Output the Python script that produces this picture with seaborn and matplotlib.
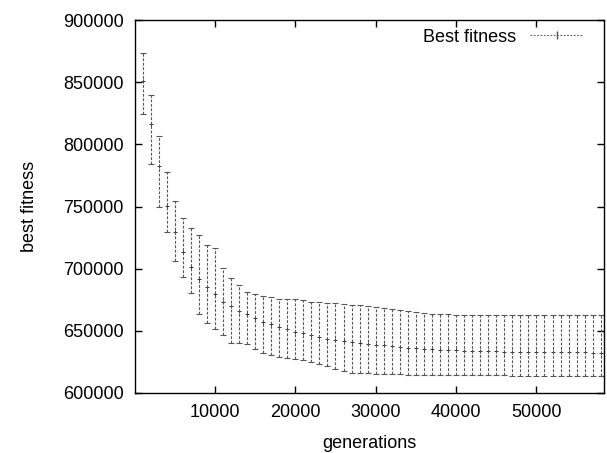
import numpy as np
import pandas as pd
import matplotlib
matplotlib.use("Agg")
import matplotlib.pyplot as plt
from matplotlib.lines import Line2D
import seaborn as sb

# values
generations = list(range(1000, 59000, 1000))
best = [851000, 816000, 782800, 750400, 729200, 713700, 701600, 691400, 685000, 679600,
        673400, 670200, 665900, 663300, 660000, 657300, 655100, 653300, 651500, 649300,
        648000, 646400, 645000, 643800, 642800, 641800, 640800, 640000, 639300, 638700,
        638200, 637600, 637000, 636500, 636000, 635600, 635200, 634800, 634500, 634200,
        634000, 633800, 633600, 633500, 633400, 633300, 633200, 633100, 633000, 633000,
        632900, 632800, 632800, 632700, 632600, 632600, 632500, 632500]
upper = [873200, 839700, 806700, 777500, 754700, 741000, 733000, 727100, 719000, 716400,
         700800, 692700, 686600, 681500, 679600, 678000, 676900, 675900, 675500, 675300,
         674800, 673400, 673000, 672500, 672000, 671500, 671000, 670500, 669800, 669000,
         668000, 667500, 666800, 666000, 665000, 664200, 663800, 663500, 663200, 663000,
         662900, 662800, 662800, 662800, 662700, 662700, 662700, 662600, 662600, 662600,
         662600, 662500, 662500, 662500, 662500, 662500, 662500, 662500]
lower = [824200, 783900, 749300, 729200, 706200, 693600, 680700, 663500, 656500, 651200,
         646400, 640500, 640000, 639200, 635200, 631900, 630600, 629200, 627900, 627100,
         626500, 624900, 623200, 621500, 619500, 617800, 616400, 616000, 615700, 615400,
         615200, 615000, 614900, 614800, 614700, 614600, 614500, 614500, 614400, 614400,
         614300, 614300, 614200, 614200, 614100, 614100, 614000, 614000, 613900, 613900,
         613800, 613800, 613800, 613700, 613700, 613700, 613700, 613700]

df = pd.DataFrame({"generations": generations, "best": best, "upper": upper, "lower": lower})

sb.set_style("ticks")
plt.rcParams["font.family"] = ["Liberation Sans", "DejaVu Sans"]
plt.rcParams["text.color"] = "black"
plt.rcParams["axes.labelcolor"] = "black"
plt.rcParams["xtick.color"] = "black"
plt.rcParams["ytick.color"] = "black"

fig = plt.figure(figsize=(6.07, 4.53), dpi=100)
ax = fig.add_axes([0.2216, 0.1325, 0.7734, 0.8233])

col = "#555555"
yerr = [df["best"] - df["lower"], df["upper"] - df["best"]]
eb = ax.errorbar(df["generations"], df["best"], yerr=yerr, fmt="none",
                 ecolor=col, elinewidth=0.8, capsize=2, capthick=0.8)
eb[2][0].set_linestyle((0, (2.5, 1.5)))
sb.scatterplot(data=df, x="generations", y="best", marker="+", color="#333333",
               s=12, linewidth=0.7, ax=ax, legend=False)

ax.set_xlim(0, 58400)
ax.set_ylim(600000, 900000)
ax.set_xticks([10000, 20000, 30000, 40000, 50000])
ax.set_yticks(range(600000, 900001, 50000))
ax.tick_params(direction="in", top=True, right=True, length=5, width=1,
               labelsize=13, pad=8)
for s in ax.spines.values():
    s.set_linewidth(1)
    s.set_color("black")

ax.set_xlabel("generations", fontsize=13, labelpad=10)
ax.set_ylabel("best fitness", fontsize=13, labelpad=18)

handle = Line2D([], [], color=col, linestyle=(0, (1.5, 1.5)), linewidth=0.8,
                marker="|", markersize=6)
ax.legend([handle], ["Best fitness"], loc="upper right", bbox_to_anchor=(0.955, 0.977),
          frameon=False, fontsize=13, handlelength=2.9, markerfirst=False,
          borderaxespad=0, borderpad=0, handletextpad=0.8)

fig.savefig("out.png", dpi=100)
